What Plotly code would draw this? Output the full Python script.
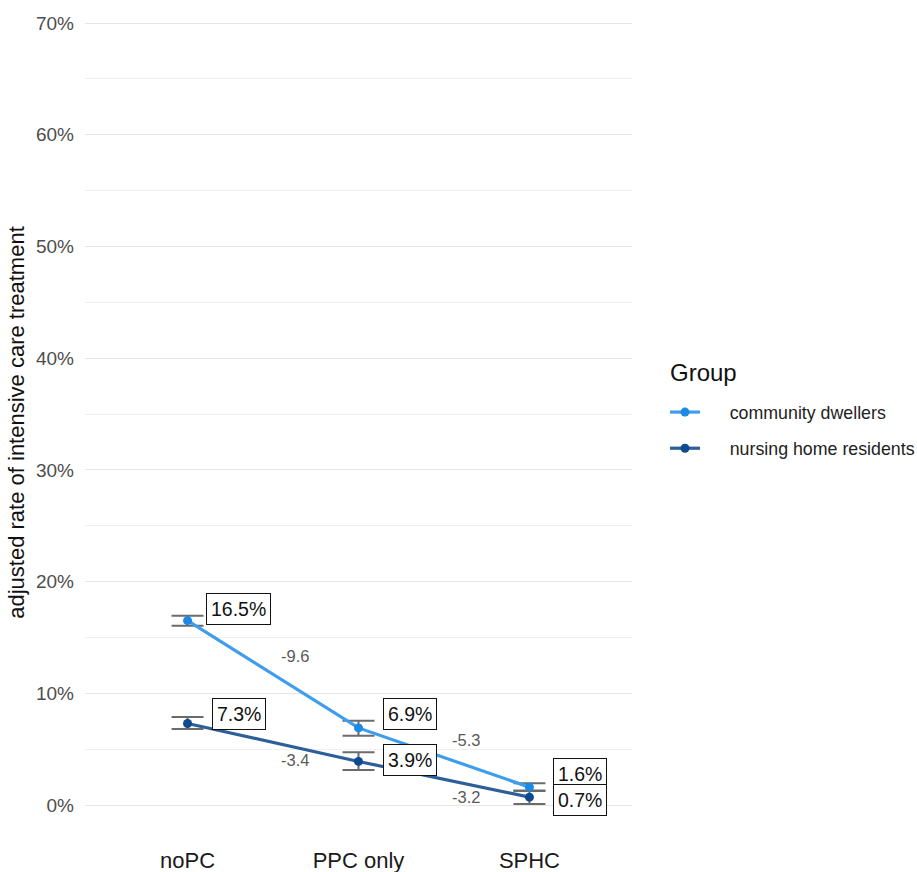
import plotly.graph_objects as go

categories = ["noPC", "PPC only", "SPHC"]
groups = ["community dwellers", "nursing home residents"]
community = [16.5, 6.9, 1.6]
community_lo = [16.05, 6.2, 1.3]
community_hi = [16.95, 7.55, 1.95]
nursing = [7.3, 3.9, 0.7]
nursing_lo = [6.8, 3.13, 0.1]
nursing_hi = [7.88, 4.72, 1.25]
diff_community = ["-9.6", "-5.3"]
diff_nursing = ["-3.4", "-3.2"]
label_shift_community = [12, 14, 13]
label_shift_nursing = [9, 1, -3]
y_ticks = [0, 10, 20, 30, 40, 50, 60, 70]
y_ticklabels = ["0%", "10%", "20%", "30%", "40%", "50%", "60%", "70%"]

line_colors = ["#3f9ded", "#2c5f99"]
point_colors = ["#1e88e5", "#0d4a8f"]

FONT = "Liberation Sans, Arial"
x = list(range(len(categories)))
series = [community, nursing]
los = [community_lo, nursing_lo]
his = [community_hi, nursing_hi]

fig = go.Figure()

for vals, lo, hi in zip(series, los, his):
    fig.add_trace(go.Scatter(
        x=x, y=vals, mode="markers", marker=dict(size=1, opacity=0),
        showlegend=False, hoverinfo="skip",
        error_y=dict(type="data", symmetric=False,
                     array=[h - v for h, v in zip(hi, vals)],
                     arrayminus=[v - l for l, v in zip(lo, vals)],
                     color="#6b6b6b", thickness=2, width=16)))

for name, vals, lc, pc in zip(groups, series, line_colors, point_colors):
    fig.add_trace(go.Scatter(
        x=x, y=vals, mode="lines+markers", name="\u00a0" * 5 + name, legendgroup=name,
        line=dict(color=lc, width=3.2),
        marker=dict(color=pc, size=9)))

annotations = []
for vals, shifts in [(community, label_shift_community), (nursing, label_shift_nursing)]:
    for xi, v, s in zip(x, vals, shifts):
        annotations.append(dict(
            x=xi, y=v, xref="x", yref="y", text=f"{v:.1f}%", showarrow=False,
            xanchor="center", yanchor="middle", xshift=51, yshift=s,
            font=dict(family=FONT, size=19.5, color="#111111"),
            bgcolor="white", bordercolor="#111111", borderwidth=1, borderpad=4))

for vals, diffs, sign in [(community, diff_community, 1), (nursing, diff_nursing, -1)]:
    for i, d in enumerate(diffs):
        annotations.append(dict(
            x=i + 0.5, y=(vals[i] + vals[i + 1]) / 2, xref="x", yref="y",
            text=d, showarrow=False, xshift=22, yshift=sign * 18,
            font=dict(family=FONT, size=16.5, color="#5a5a5a")))

annotations.append(dict(
    x=(668 - 85) / 547, y=(845 - 372) / 845, xref="paper", yref="paper",
    text="Group", showarrow=False, xanchor="left", yanchor="middle",
    font=dict(family=FONT, size=24, color="#111111")))

fig.update_layout(
    width=917, height=872,
    margin=dict(l=85, r=285, t=0, b=27, autoexpand=False),
    paper_bgcolor="white", plot_bgcolor="white",
    font=dict(family=FONT, color="#333333"),
    annotations=annotations,
    showlegend=True,
    legend=dict(
        font=dict(size=17.8, color="#222222"),
        x=(665 - 85) / 547, xanchor="left",
        y=(845 - 394) / 845, yanchor="top",
        tracegroupgap=10,
        bgcolor="rgba(0,0,0,0)"),
    xaxis=dict(
        range=[-0.6, 2.6], tickvals=x, ticktext=categories,
        showgrid=False, zeroline=False, showline=False,
        tickfont=dict(size=22, color="#1a1a1a"), ticks=""),
    yaxis=dict(
        range=[-3.58, 72.06], tickvals=y_ticks, ticktext=y_ticklabels,
        showgrid=True, gridcolor="#e6e6e6", gridwidth=1.3,
        zeroline=False, showline=False, ticks="", ticklabelstandoff=10,
        tickfont=dict(size=19, color="#4d4d4d"),
        minor=dict(tickvals=[5, 15, 25, 35, 45, 55, 65], showgrid=True,
                   gridcolor="#f0f0f0", gridwidth=0.8),
        title=dict(text="adjusted rate of intensive care treatment",
                   font=dict(size=22, color="#111111"), standoff=5)),
)

fig.write_html("out.html")
